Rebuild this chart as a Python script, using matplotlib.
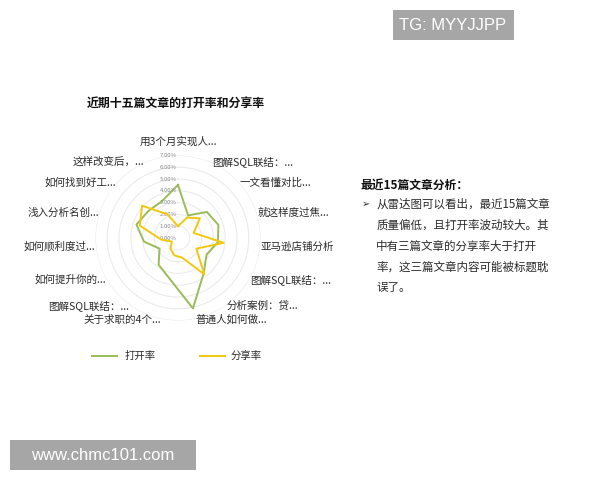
import numpy as np
import matplotlib.pyplot as plt
from matplotlib.patches import Rectangle

plt.rcParams['font.family'] = ['Noto Sans CJK SC', 'DejaVu Sans']

# article titles, clockwise from top
titles = ['用3个月实现人...', '图解SQL联结：...', '一文看懂对比...', '就这样度过焦...',
          '亚马逊店铺分析', '图解SQL联结：...', '分析案例：贷...', '普通人如何做...',
          '关于求职的4个...', '图解SQL联结：...', '如何提升你的...', '如何顺利度过...',
          '浅入分析名创...', '如何找到好工...', '这样改变后，...']
# values in percent
open_rate = [4.5, 2.1, 3.3, 3.6, 3.4, 2.8, 3.7, 6.1, 3.5, 2.8, 1.8, 2.9, 3.7, 3.4, 3.4]
share_rate = [1.0, 1.9, 2.5, 1.4, 3.9, 1.8, 3.8, 1.7, 1.5, 1.1, 0.6, 1.4, 3.4, 4.1, 2.2]
rings = [0, 1, 2, 3, 4, 5, 6, 7]

green = '#9BBB59'
yellow = '#F2C80F'
txt = '#2b2b2b'

fig = plt.figure(figsize=(6, 4.8), dpi=100)
ax = fig.add_axes([0.159, 0.332, 0.2753, 0.3442], projection='polar')
ax.set_theta_zero_location('N')
ax.set_theta_direction(-1)

n = len(titles)
theta = np.arange(n) * 2 * np.pi / n
th_closed = np.append(theta, theta[0])

# faint circular gridlines
circ = np.linspace(0, 2 * np.pi, 200)
for r in rings[1:]:
    ax.plot(circ, np.full_like(circ, r), color='#EBEBEB', lw=0.8, zorder=1)

ax.plot(th_closed, np.append(open_rate, open_rate[0]), color=green, lw=1.4, zorder=3)
ax.plot(th_closed, np.append(share_rate, share_rate[0]), color=yellow, lw=1.4, zorder=4)

ax.set_ylim(0, 7)
ax.set_xticks([])
ax.set_yticks([])
ax.grid(False)
ax.spines['polar'].set_visible(False)
ax.set_facecolor('none')

# radial tick labels along the top axis
for r in rings:
    ax.annotate(f'{r:.2f}%', xy=(0, r), xytext=(-1, 0), textcoords='offset points',
                ha='right', va='center', fontsize=4.3, color='#888888')

# category labels
for t, lab in zip(theta, titles):
    s, c = np.sin(t), np.cos(t)
    rr = 7.05
    if abs(s) < 0.1:
        ha = 'center'
        va = 'bottom' if c > 0 else 'top'
        if c > 0:
            rr = 7.7
    else:
        ha = 'left' if s > 0 else 'right'
        va = 'center'
    ax.text(t, rr, lab, ha=ha, va=va, fontsize=7.6, color=txt)

fig.text(0.293, 0.785, '近期十五篇文章的打开率和分享率', ha='center', va='center',
         fontsize=8.6, fontweight='bold', color='#111111')

# legend
fig.add_artist(plt.Line2D([0.153, 0.195], [0.258, 0.258], color=green, lw=1.4))
fig.text(0.207, 0.258, '打开率', fontsize=7.5, va='center', color=txt)
fig.add_artist(plt.Line2D([0.333, 0.375], [0.258, 0.258], color=yellow, lw=1.4))
fig.text(0.384, 0.258, '分享率', fontsize=7.5, va='center', color=txt)

# analysis text on the right
fig.text(0.601, 0.615, '最近15篇文章分析：', fontsize=8.5, fontweight='bold',
         va='center', color='#111111')
fig.text(0.603, 0.575, '➢', fontsize=7, va='center', color=txt)
lines = ['从雷达图可以看出，最近15篇文章', '质量偏低，且打开率波动较大。其',
         '中有三篇文章的分享率大于打开', '率，这三篇文章内容可能被标题耽', '误了。']
for i, line in enumerate(lines):
    fig.text(0.627, 0.575 - i * 0.0437, line, fontsize=8.3, va='center', color=txt)

# watermark boxes
fig.add_artist(Rectangle((393 / 600, 1 - 40 / 480), 121 / 600, 30 / 480,
                         transform=fig.transFigure, color='#A6A6A6', lw=0))
fig.text(453 / 600, 1 - 25 / 480, 'TG: MYYJJPP', ha='center', va='center',
         fontsize=12, color='white', family='Liberation Sans')
fig.add_artist(Rectangle((10 / 600, 1 - 470 / 480), 186 / 600, 30 / 480,
                         transform=fig.transFigure, color='#A6A6A6', lw=0))
fig.text(103 / 600, 1 - 455 / 480, 'www.chmc101.com', ha='center', va='center',
         fontsize=12, color='white', family='Liberation Sans')

fig.savefig('out.png', dpi=100)
